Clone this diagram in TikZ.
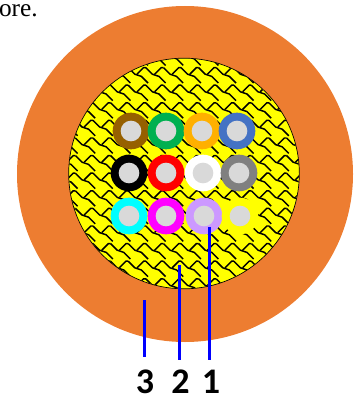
\documentclass[tikz,border=0pt]{standalone}
\usepackage{fontspec}
\setmainfont{Liberation Serif}
\newfontfamily\labelfont{Carlito}
\usetikzlibrary{positioning}
\definecolor{jacket}{RGB}{237,125,49}
\definecolor{corecol}{RGB}{217,217,217}
\definecolor{brownf}{RGB}{150,96,0}
\definecolor{greenf}{RGB}{0,176,80}
\definecolor{orangef}{RGB}{255,176,0}
\definecolor{bluef}{RGB}{68,114,196}
\definecolor{grayf}{RGB}{128,128,128}
\definecolor{lilacf}{RGB}{204,153,255}
\definecolor{cyanf}{RGB}{0,255,255}
\definecolor{magentaf}{RGB}{255,0,255}
\definecolor{yellowf}{RGB}{255,255,0}

\begin{document}
\begin{tikzpicture}[x=0.75pt, y=-0.75pt,
  fibre/.style={circle, draw=none, minimum size=27.5pt, inner sep=0pt},
  core/.style={circle, fill=corecol, minimum size=15.5pt, inner sep=0pt},
  lead/.style={draw=blue, line width=2.2pt},
  num/.style={font=\labelfont\bfseries\fontsize{27}{27}\selectfont, inner sep=0pt, anchor=base},
  shingle/.style={draw=black, line width=1.1pt},
]
\useasboundingbox (0,0) rectangle (358,399);

% ---- Jacket and yarn ----
\node[circle, fill=jacket, minimum size=252pt, inner sep=0pt] (jacket) at (185,174) {};
\node[circle, fill=yellowf, minimum size=173pt, inner sep=0pt] (yarn) at (184,173.5) {};
\begin{scope}
  \clip (184,173.5) circle (115);
  \foreach \row in {-1,...,14} {
    \foreach \col in {-1,...,14} {
      \begin{scope}[shift={(60+\col*17.6,50+\row*17.6)}, x=1.65pt, y=-1.65pt]
        \draw[shingle] (7,0) -- (10,3) -- (13,4) -- (16,7);
        \draw[shingle] (11,3) -- (14,0) -- (15,0);
      \end{scope}
    }
  }
\end{scope}
\node[circle, draw=black, line width=0.5pt, minimum size=173pt, inner sep=0pt] (rim) at (184,173.5) {};

% ---- Fibres ----
\foreach \name/\px/\py/\col in {
    brown/131/131/brownf, green/166/131/greenf, orange/202/131/orangef, blue/237/131/bluef,
    black/129/173/black, red/166/173/red, white/203/173/white, gray/239/173/grayf,
    cyan/129/216/cyanf, magenta/166/216/magentaf, lilac/204/216/lilacf, yellow/240/216/yellowf} {
  \node[fibre, fill=\col] (f\name) at (\px,\py) {};
  \node[core] at (f\name.center) {};
}

% ---- Numbered leads ----
\node[num] (n1) at (211,393) {1};
\node[num] (n2) at (180.5,393) {2};
\node[num] (n3) at (145,393) {3};
\coordinate (tip1) at (209.5,227);
\coordinate (foot1) at (209.5,360);
\coordinate (tip2) at (179.5,265);
\coordinate (foot2) at (179.5,360);
\coordinate (tip3) at (144.3,300);
\coordinate (foot3) at (144.3,357);
\draw[lead] (tip1) -- (foot1);
\draw[lead] (tip2) -- (foot2);
\draw[lead] (tip3) -- (foot3);

\node[anchor=base east, inner sep=0pt, font=\fontsize{19}{19}\selectfont] (txt) at (38,16.5) {ore.};
\end{tikzpicture}
\end{document}
